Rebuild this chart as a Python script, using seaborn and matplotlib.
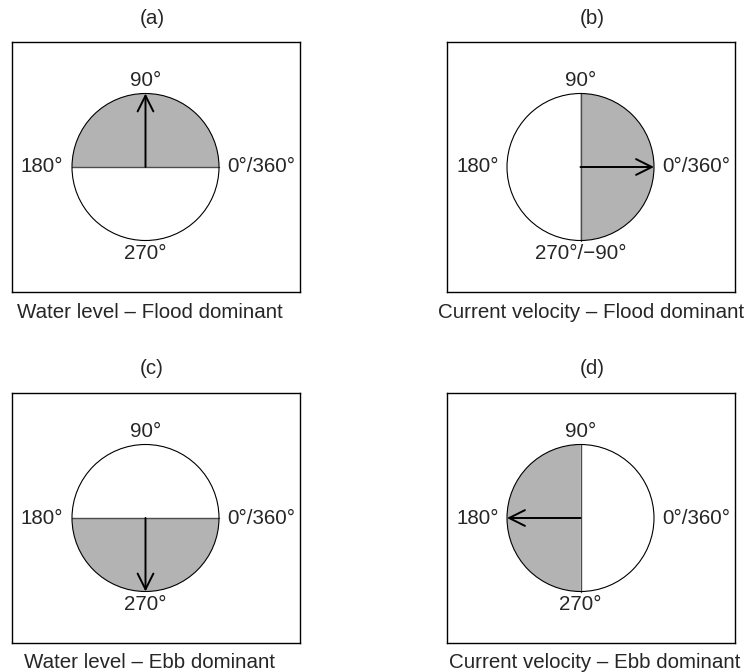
import numpy as np
import matplotlib
matplotlib.use("Agg")
import matplotlib.pyplot as plt
from matplotlib.patches import Wedge, Circle, FancyArrowPatch
import seaborn as sns

# Panel contents
panel_tags = ["(a)", "(b)", "(c)", "(d)"]
captions = [
    "Water level – Flood dominant",
    "Current velocity – Flood dominant",
    "Water level – Ebb dominant",
    "Current velocity – Ebb dominant",
]
dominant_angle = [90, 0, 270, 180]          # direction of the dominant phase (deg)
north_labels = ["90°", "90°", "90°", "90°"]
east_labels = ["0°/360°", "0°/360°", "0°/360°", "0°/360°"]
west_labels = ["180°", "180°", "180°", "180°"]
south_labels = ["270°", "270°/−90°", "270°", "270°"]

sns.set_theme(style="white")
plt.rcParams["font.family"] = ["Liberation Sans", "DejaVu Sans"]

W, H = 747, 672
fig = plt.figure(figsize=(W / 100, H / 100), dpi=100)

FS = 14.8
SHADE = "#b3b3b3"
R_PX = 73.5                      # circle radius in pixels
box_left = [12, 447, 12, 447]
box_top = [42, 42, 393, 393]
box_w, box_h = 288, 250
cx_off = 133.5                   # circle centre from box left edge
tag_x = [152, 592, 152, 592]
tag_y = [18, 18, 368, 368]
cap_x = [150, 591, 150, 595]
cap_y = [312, 312, 662, 662]

for i in range(4):
    l, t = box_left[i], box_top[i]
    ax = fig.add_axes([l / W, 1 - (t + box_h) / H, box_w / W, box_h / H])
    # data units: 1 = circle radius
    ax.set_xlim(-cx_off / R_PX, (box_w - cx_off) / R_PX)
    ax.set_ylim(-box_h / 2 / R_PX, box_h / 2 / R_PX)
    ax.set_xticks([])
    ax.set_yticks([])
    for s in ax.spines.values():
        s.set_visible(True)
        s.set_color("black")
        s.set_linewidth(1.0)

    a = dominant_angle[i]
    ax.add_patch(Circle((0, 0), 1, facecolor="white", edgecolor="none", zorder=1))
    ax.add_patch(Wedge((0, 0), 1, a - 90, a + 90, facecolor=SHADE,
                       edgecolor="none", zorder=2))
    # diameter separating the two halves
    pa = np.deg2rad(a + 90)
    sns.lineplot(x=[np.cos(pa), -np.cos(pa)], y=[np.sin(pa), -np.sin(pa)],
                 ax=ax, color="#4d4d4d", linewidth=1.0, sort=False,
                 estimator=None, zorder=3)
    ax.add_patch(Circle((0, 0), 1, facecolor="none", edgecolor="black",
                        linewidth=0.8, zorder=4))
    ar = np.deg2rad(a)
    ax.add_patch(FancyArrowPatch((0, 0), (np.cos(ar), np.sin(ar)),
                                 arrowstyle="->,head_length=0.42,head_width=0.21",
                                 mutation_scale=27, shrinkA=0, shrinkB=0,
                                 color="black", linewidth=1.4, zorder=5))

    off_v = 1 + 13 / R_PX
    off_h = 1 + 8.5 / R_PX
    ax.text(0, off_v, north_labels[i], ha="center", va="center", fontsize=FS)
    ax.text(0, -off_v, south_labels[i], ha="center", va="center", fontsize=FS)
    ax.text(-off_h, 0, west_labels[i], ha="right", va="center", fontsize=FS)
    ax.text(off_h, 0, east_labels[i], ha="left", va="center", fontsize=FS)

    fig.text(tag_x[i] / W, 1 - tag_y[i] / H, panel_tags[i],
             ha="center", va="center", fontsize=FS)
    fig.text(cap_x[i] / W, 1 - cap_y[i] / H, captions[i],
             ha="center", va="center", fontsize=FS)

fig.savefig("out.png", dpi=100, facecolor="white")
